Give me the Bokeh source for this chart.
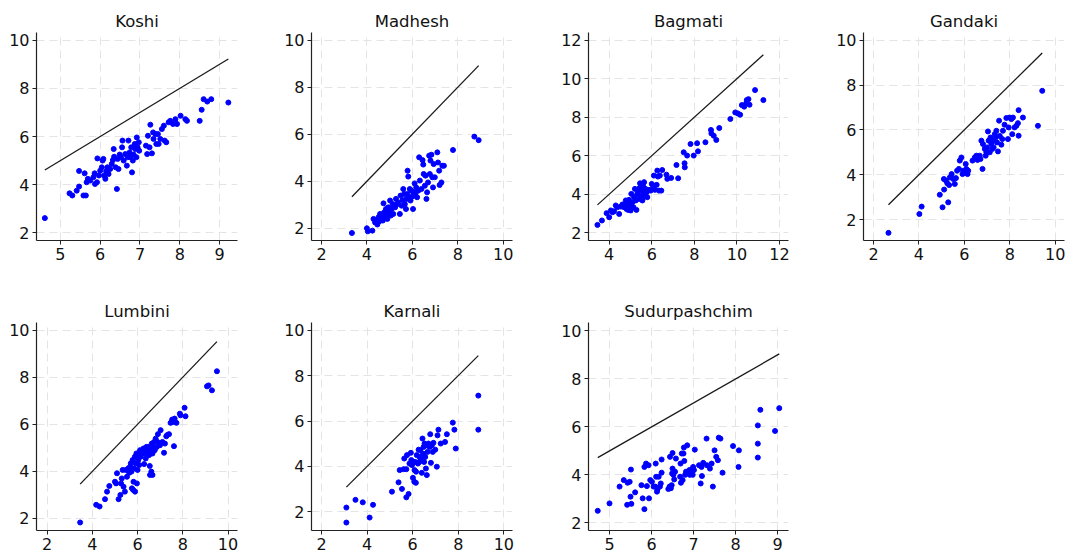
from bokeh.plotting import figure
from bokeh.layouts import column, row
from bokeh.models import FixedTicker, Range1d
from bokeh.embed import file_html
from bokeh.resources import INLINE

# ---------------- data ----------------
koshi_x = [4.61, 5.23, 5.30, 5.41, 5.47, 5.47, 5.58, 5.64, 5.61, 5.66, 5.69, 5.75, 5.83, 5.86, 5.87, 5.92, 5.93, 5.97,
           6.00, 6.04, 6.06, 6.08, 6.10, 6.13, 6.15, 6.18, 6.21, 6.25, 6.29, 6.32, 6.35, 6.34, 6.39, 6.42, 6.44, 6.46,
           6.49, 6.52, 6.55, 6.56, 6.59, 6.63, 6.67, 6.69, 6.71, 6.74, 6.76, 6.78, 6.80, 6.82, 6.84, 6.87, 6.88, 6.91,
           6.92, 6.94, 6.97, 6.98, 7.15, 7.18, 7.20, 7.24, 7.26, 7.30, 7.33, 7.34, 7.39, 7.41, 7.45, 7.47, 7.51, 7.55,
           7.60, 7.62, 7.66, 7.72, 7.76, 7.83, 7.89, 7.93, 8.02, 8.14, 8.18, 8.50, 8.55, 8.60, 8.69, 8.79, 9.22]
koshi_y = [2.61, 3.64, 3.55, 3.75, 3.92, 4.57, 3.55, 3.55, 4.47, 4.10, 4.24, 4.17, 4.31, 4.47, 4.03, 4.10, 5.09, 4.38,
           4.58, 4.72, 5.00, 5.07, 4.38, 4.24, 4.56, 4.72, 4.44, 4.65, 4.86, 5.02, 5.16, 5.48, 4.72, 3.82, 5.07, 4.65,
           5.25, 5.14, 5.55, 5.83, 5.00, 5.27, 4.79, 5.14, 5.83, 5.34, 5.14, 5.55, 4.51, 5.00, 5.25, 5.69, 5.48, 5.14,
           5.96, 5.55, 5.76, 5.41, 5.62, 5.27, 6.03, 5.55, 6.49, 5.30, 6.17, 5.90, 6.10, 5.69, 6.10, 5.69, 5.90, 6.31,
           6.45, 5.83, 5.76, 6.59, 6.65, 6.52, 6.72, 6.52, 6.86, 6.72, 6.65, 6.65, 7.11, 7.55, 7.45, 7.55, 7.41]

madhesh_x = [3.34, 4.00, 4.04, 4.24, 4.29, 4.36, 4.43, 4.46, 4.51, 4.55, 4.58, 4.62, 4.65, 4.70, 4.73, 4.76, 4.80, 4.84,
             4.87, 4.90, 4.94, 4.97, 5.02, 5.05, 5.09, 5.13, 5.16, 5.24, 5.28, 5.31, 5.38, 5.45, 5.48, 5.53, 5.57, 5.60,
             5.64, 5.67, 5.72, 5.75, 5.78, 5.79, 5.82, 5.86, 5.89, 5.92, 5.96, 6.00, 6.03, 6.06, 6.10, 6.13, 6.17, 6.21,
             6.26, 6.30, 6.33, 6.40, 6.45, 6.48, 6.50, 6.55, 6.58, 6.62, 6.65, 6.69, 6.74, 6.77, 6.80, 6.84, 6.88, 6.91,
             6.94, 6.99, 7.10, 7.13, 7.18, 7.20, 7.28, 7.32, 7.39, 7.79, 8.73, 8.92]
madhesh_y = [1.80, 2.00, 1.87, 1.90, 2.40, 2.25, 2.33, 2.16, 2.47, 2.30, 2.61, 2.40, 2.54, 2.33, 3.06, 2.68, 2.47, 2.82,
             2.61, 2.40, 2.89, 2.68, 3.18, 2.54, 2.82, 3.03, 2.61, 2.89, 3.25, 3.01, 3.10, 2.61, 3.39, 2.96, 3.20, 3.67,
             3.46, 3.03, 2.82, 3.25, 3.46, 4.45, 4.20, 3.32, 3.67, 3.18, 3.60, 3.35, 2.82, 3.53, 3.91, 3.46, 3.74, 3.32,
             3.60, 5.02, 4.03, 3.67, 4.90, 4.71, 4.31, 3.81, 4.24, 3.25, 3.53, 3.95, 5.09, 4.31, 4.88, 5.13, 4.17, 3.74,
             4.73, 4.17, 5.23, 4.80, 4.45, 3.84, 3.95, 4.66, 4.66, 5.33, 5.90, 5.75]

bagmati_x = [3.45, 3.66, 3.88, 4.00, 4.08, 4.16, 4.23, 4.31, 4.39, 4.47, 4.55, 4.62, 4.70, 4.78, 4.81, 4.86, 4.89, 4.93,
             4.98, 5.01, 5.04, 5.09, 5.14, 5.17, 5.21, 5.25, 5.28, 5.32, 5.36, 5.40, 5.43, 5.45, 5.48, 5.51, 5.56, 5.59,
             5.60, 5.64, 5.67, 5.71, 5.76, 5.79, 5.87, 5.95, 6.00, 6.07, 6.10, 6.15, 6.23, 6.26, 6.29, 6.34, 6.38, 6.45,
             6.49, 6.69, 6.73, 6.91, 7.16, 7.24, 7.50, 7.54, 7.55, 7.66, 7.82, 7.97, 8.13, 8.17, 8.52, 8.78, 8.80, 8.91,
             9.03, 9.17, 9.69, 9.92, 10.04, 10.15, 10.23, 10.34, 10.43, 10.46, 10.54, 10.59, 10.85, 11.24]
bagmati_y = [2.41, 2.64, 3.02, 2.81, 3.16, 3.07, 3.12, 3.42, 3.33, 2.98, 3.36, 3.47, 3.33, 3.68, 3.24, 3.50, 3.19, 3.71,
             3.42, 3.16, 4.02, 3.59, 3.33, 3.85, 4.28, 3.68, 3.19, 4.02, 4.19, 3.76, 4.33, 4.57, 3.93, 4.23, 3.68, 4.45,
             4.11, 4.63, 3.88, 4.28, 4.11, 3.85, 4.23, 4.19, 4.54, 4.37, 4.97, 4.23, 4.49, 5.23, 4.92, 4.19, 4.97, 4.19,
             5.26, 5.02, 4.80, 4.85, 5.52, 4.83, 6.18, 5.61, 5.40, 6.01, 6.61, 6.01, 6.65, 6.23, 6.70, 7.34, 7.16, 7.04,
             6.82, 7.44, 7.91, 8.25, 8.20, 8.13, 8.63, 8.55, 8.72, 8.89, 8.94, 8.65, 9.41, 8.89]

gandaki_x = [2.66, 4.02, 4.12, 4.92, 5.04, 5.11, 5.29, 5.10, 5.19, 5.25, 5.33, 5.36, 5.44, 5.51, 5.58, 5.63, 5.68, 5.76,
             5.80, 5.87, 5.92, 5.95, 6.02, 6.06, 6.09, 6.14, 6.17, 6.36, 6.46, 6.53, 6.58, 6.68, 6.71, 6.75, 6.80, 6.82,
             6.90, 6.94, 6.97, 7.00, 7.04, 7.07, 7.12, 7.15, 7.19, 7.23, 7.26, 7.29, 7.34, 7.38, 7.41, 7.44, 7.48, 7.53,
             7.56, 7.63, 7.67, 7.70, 7.77, 7.85, 7.92, 7.95, 7.99, 8.07, 8.11, 8.14, 8.21, 8.29, 8.36, 8.39, 8.39, 8.58,
             9.24, 9.43]
gandaki_y = [1.41, 2.25, 2.58, 3.11, 2.55, 3.34, 2.77, 3.81, 3.74, 3.62, 3.54, 3.88, 4.03, 3.81, 3.59, 3.85, 4.18, 4.26,
             4.63, 4.77, 4.03, 4.18, 4.11, 4.48, 4.26, 4.03, 4.18, 4.63, 4.77, 4.85, 4.66, 4.85, 4.70, 5.52, 4.26, 5.37,
             5.15, 4.85, 5.00, 5.22, 5.93, 5.52, 5.00, 5.66, 5.37, 5.15, 5.52, 5.22, 5.81, 5.66, 5.96, 5.44, 5.04, 6.41,
             5.73, 5.34, 5.59, 5.96, 6.23, 6.53, 5.59, 6.11, 6.55, 6.48, 5.81, 6.55, 6.11, 6.18, 6.30, 6.88, 5.74, 6.55,
             6.18, 7.74]

lumbini_x = [3.46, 4.17, 4.32, 4.56, 4.65, 4.75, 5.00, 5.05, 5.09, 5.16, 5.24, 5.27, 5.30, 5.34, 5.38, 5.44, 5.48, 5.53,
             5.59, 5.63, 5.67, 5.70, 5.73, 5.75, 5.78, 5.81, 5.82, 5.85, 5.88, 5.89, 5.92, 5.95, 5.97, 6.00, 6.03, 6.04,
             6.07, 6.11, 6.14, 6.22, 6.26, 6.29, 6.32, 6.36, 6.39, 6.44, 6.47, 6.51, 6.54, 6.55, 6.58, 6.61, 6.63, 6.66,
             6.66, 6.70, 6.73, 6.76, 6.80, 6.85, 6.88, 6.90, 6.99, 7.02, 7.10, 7.17, 7.21, 7.27, 7.31, 7.39, 7.46, 7.53,
             7.58, 7.61, 7.64, 7.72, 7.87, 7.90, 8.08, 8.12, 9.07, 9.14, 9.29, 9.51]
lumbini_y = [1.83, 2.58, 2.51, 2.82, 3.14, 3.38, 3.56, 3.49, 3.92, 2.82, 3.00, 3.49, 3.70, 4.06, 3.35, 3.14, 4.06, 3.77,
             4.13, 3.94, 4.20, 4.34, 3.99, 3.28, 4.48, 3.21, 3.56, 4.13, 4.62, 3.14, 4.34, 4.76, 3.49, 4.06, 4.48, 4.69,
             4.27, 4.90, 4.62, 4.79, 4.97, 4.31, 4.76, 4.55, 5.04, 4.83, 5.04, 4.69, 4.23, 3.85, 4.90, 3.99, 5.18, 4.76,
             3.85, 5.04, 5.25, 4.90, 5.39, 5.04, 5.25, 5.58, 5.11, 5.75, 5.25, 4.79, 5.18, 5.49, 5.54, 5.58, 6.06, 6.20,
             6.10, 5.07, 6.24, 6.06, 6.45, 6.38, 6.70, 6.34, 7.61, 7.65, 7.44, 8.25]

karnali_x = [3.09, 3.09, 3.49, 3.81, 4.11, 4.26, 5.09, 5.38, 5.43, 5.53, 5.60, 5.63, 5.72, 5.72, 5.75, 5.82, 5.86, 5.92,
             5.94, 5.97, 6.01, 6.04, 6.07, 6.08, 6.11, 6.14, 6.15, 6.18, 6.23, 6.26, 6.29, 6.30, 6.33, 6.36, 6.40, 6.43,
             6.45, 6.48, 6.50, 6.52, 6.55, 6.58, 6.59, 6.62, 6.65, 6.69, 6.74, 6.77, 6.80, 6.84, 6.88, 6.91, 6.99, 7.06,
             7.09, 7.13, 7.23, 7.42, 7.50, 7.76, 7.83, 7.89, 8.88, 8.88]
karnali_y = [2.19, 1.53, 2.53, 2.42, 1.75, 2.31, 2.89, 3.30, 3.84, 3.01, 3.88, 4.35, 3.88, 2.64, 4.50, 2.79, 4.13, 4.60,
             4.28, 4.06, 3.50, 4.20, 3.33, 3.84, 4.20, 3.28, 3.77, 4.50, 4.13, 4.74, 4.20, 4.42, 4.72, 4.35, 3.72, 5.23,
             4.57, 4.86, 4.20, 5.01, 4.42, 3.91, 4.93, 3.62, 4.64, 5.01, 4.86, 5.42, 4.16, 4.93, 4.64, 5.04, 4.74, 3.99,
             5.37, 5.62, 5.01, 5.08, 5.42, 5.93, 5.62, 4.79, 7.12, 5.62]

sudur_x = [4.72, 5.00, 5.24, 5.34, 5.43, 5.48, 5.42, 5.50, 5.51, 5.52, 5.61, 5.76, 5.79, 5.83, 5.83, 5.87, 5.89, 5.93,
           5.94, 5.97, 6.01, 6.05, 6.09, 6.10, 6.11, 6.13, 6.14, 6.17, 6.20, 6.22, 6.24, 6.24, 6.40, 6.43, 6.44, 6.46,
           6.48, 6.49, 6.50, 6.50, 6.52, 6.54, 6.56, 6.58, 6.68, 6.69, 6.70, 6.72, 6.74, 6.76, 6.77, 6.78, 6.80, 6.82,
           6.85, 6.90, 6.91, 6.95, 6.98, 6.99, 7.01, 7.03, 7.13, 7.17, 7.19, 7.20, 7.23, 7.31, 7.32, 7.39, 7.43, 7.46,
           7.50, 7.54, 7.58, 7.60, 7.64, 7.69, 7.94, 8.07, 8.08, 8.53, 8.53, 8.53, 8.59, 8.94, 9.04]
sudur_y = [2.50, 2.81, 3.51, 3.78, 3.67, 3.71, 2.75, 3.09, 4.22, 2.79, 3.27, 3.57, 3.02, 4.33, 2.57, 4.47, 3.53, 4.40,
           3.02, 3.78, 3.71, 3.51, 3.51, 4.47, 3.92, 3.30, 3.39, 3.92, 3.51, 3.64, 4.09, 4.64, 3.41, 3.51, 4.75, 3.44,
           3.57, 4.06, 4.26, 4.91, 4.00, 3.81, 4.13, 4.68, 3.92, 4.47, 3.67, 4.89, 3.78, 4.89, 5.14, 4.58, 4.00, 4.13,
           5.23, 4.20, 4.00, 4.20, 4.00, 4.33, 4.20, 5.05, 4.40, 3.64, 4.33, 3.95, 4.50, 5.51, 4.40, 4.26, 4.47, 3.51,
           5.02, 4.75, 4.61, 5.55, 5.51, 4.09, 5.20, 4.33, 5.02, 6.06, 5.30, 4.72, 6.71, 5.83, 6.78]

titles = ["Koshi", "Madhesh", "Bagmati", "Gandaki", "Lumbini", "Karnali", "Sudurpashchim"]
x_ticks = [[5, 6, 7, 8, 9], [2, 4, 6, 8, 10], [4, 6, 8, 10, 12], [2, 4, 6, 8, 10],
           [2, 4, 6, 8, 10], [2, 4, 6, 8, 10], [5, 6, 7, 8, 9]]
y_ticks = [[2, 4, 6, 8, 10], [2, 4, 6, 8, 10], [2, 4, 6, 8, 10, 12], [2, 4, 6, 8, 10],
           [2, 4, 6, 8, 10], [2, 4, 6, 8, 10], [2, 4, 6, 8, 10]]

# ---------------- layout / style (not data) ----------------
x_ranges = [(4.40, 9.45), (1.56, 10.41), (3.03, 12.42), (1.56, 10.41), (1.53, 10.42), (1.56, 10.38), (4.50, 9.26)]
y_ranges = [(1.68, 10.32), (1.48, 10.33), (1.60, 12.40), (1.07, 10.34), (1.49, 10.32), (1.18, 10.34), (1.68, 10.35)]

FONT = "DejaVu Sans"


def make_panel(i, xs, ys, width, left, right, height, top, bottom):
    p = figure(width=width, height=height, output_backend="svg", toolbar_location=None,
               x_range=Range1d(*x_ranges[i]), y_range=Range1d(*y_ranges[i]),
               min_border_left=left, min_border_right=right,
               min_border_top=top, min_border_bottom=bottom,
               background_fill_color="white", border_fill_color="white")
    p.outline_line_color = None
    p.title.text = titles[i]
    p.title.align = "center"
    p.title.text_font = FONT
    p.title.text_font_size = "16.5px"
    p.title.text_font_style = "normal"
    p.title.text_color = "#111111"
    p.title.standoff = 4
    p.title.offset = 0
    for ax, ticks in ((p.xaxis[0], x_ticks[i]), (p.yaxis[0], y_ticks[i])):
        ax.ticker = FixedTicker(ticks=ticks)
        ax.minor_tick_line_color = None
        ax.major_tick_out = 4
        ax.major_tick_in = 0
        ax.axis_line_color = "#222222"
        ax.axis_line_width = 1.2
        ax.major_tick_line_color = "#222222"
        ax.major_label_text_font = FONT
        ax.major_label_text_font_size = "16px"
        ax.major_label_text_color = "#111111"
        ax.major_label_standoff = 3
    for g in (p.xgrid[0], p.ygrid[0]):
        g.grid_line_color = "#e4e4e4"
        g.grid_line_dash = "8 5"
        g.grid_line_width = 1
    x0, x1 = min(xs), max(xs)
    p.line([x0, x1], [x0, x1], line_color="#1a1a1a", line_width=1.3)
    p.scatter(xs, ys, size=5, fill_color="#0000ff", line_color="#0000ff")
    return p


data = [(koshi_x, koshi_y), (madhesh_x, madhesh_y), (bagmati_x, bagmati_y), (gandaki_x, gandaki_y),
        (lumbini_x, lumbini_y), (karnali_x, karnali_y), (sudur_x, sudur_y)]

col_w = [(275, 36, 38), (276, 36, 39), (276, 37, 39), (243, 36, 6)]
row_h = [(285, 32, 45), (267, 37, 21)]

figs = []
for i, (xs, ys) in enumerate(data):
    r, c = divmod(i, 4)
    w, l, rr = col_w[c]
    h, t, b = row_h[r]
    figs.append(make_panel(i, xs, ys, w, l, rr, h, t, b))

layout = column(row(*figs[:4]), row(*figs[4:]))
open("out.html", "w").write(file_html(layout, INLINE))
